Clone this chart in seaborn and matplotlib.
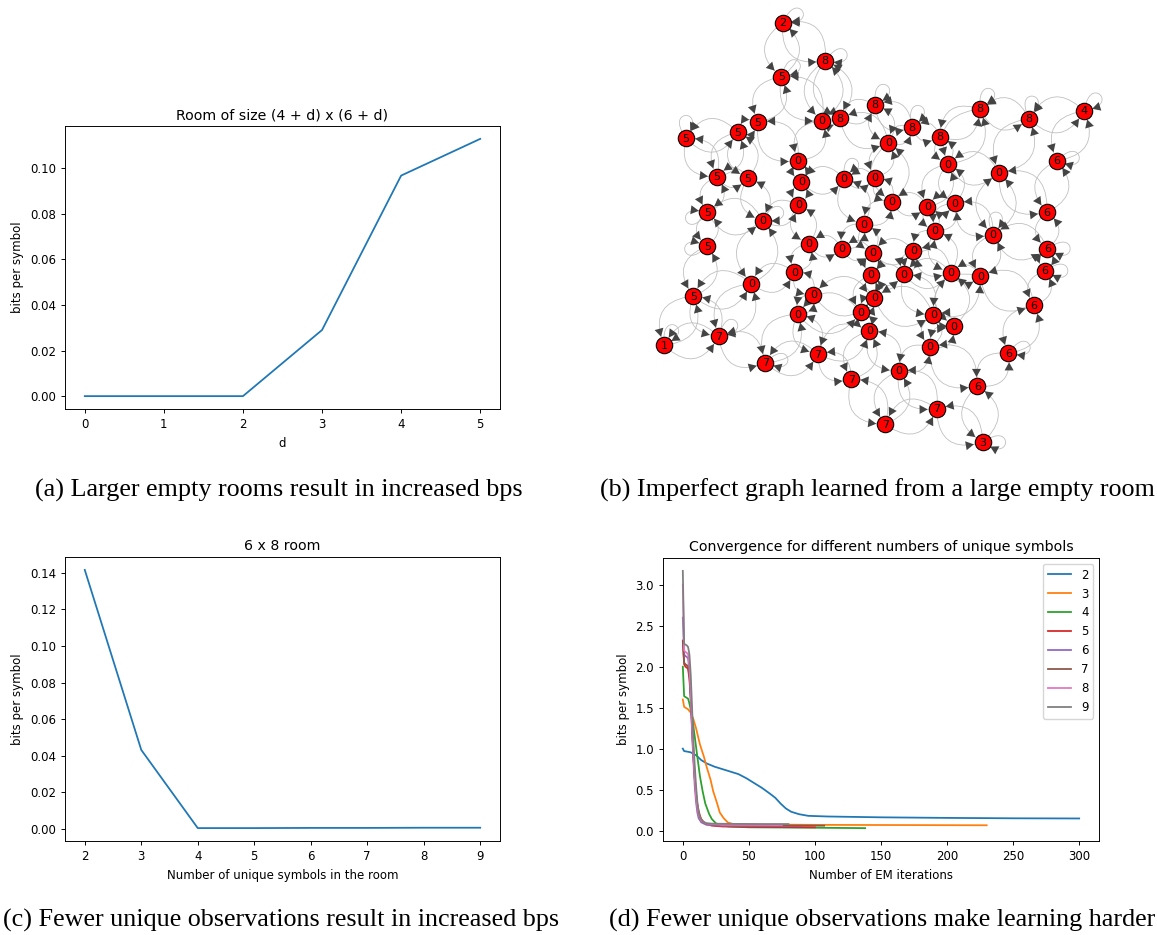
import numpy as np
import pandas as pd
import seaborn as sns
import matplotlib.pyplot as plt
from matplotlib.patches import FancyArrowPatch
from matplotlib.path import Path

# (a) bits per symbol vs room growth d
d_vals = [0, 1, 2, 3, 4, 5]
bps_room = [0.0, 0.0, 0.0, 0.029, 0.0967, 0.1128]

# (c) bits per symbol vs number of unique symbols (6 x 8 room)
n_symbols = [2, 3, 4, 5, 6, 7, 8, 9]
bps_symbols = [0.1415, 0.0432, 0.0005, 0.0005, 0.0006, 0.0006, 0.0007, 0.0007]

# (d) convergence curves, one per number of unique symbols
conv_iters = {
    '2': [0, 1, 3, 6, 10, 14, 18, 24, 30, 36, 42, 48, 54, 60, 66, 70, 74, 78, 82, 88, 95, 110, 150, 200, 250, 300],
    '3': [0, 1, 4, 6, 8, 10, 13, 16, 18, 21, 23, 26, 28, 31, 34, 38, 50, 100, 230],
    '4': [0, 1, 4, 5, 7, 9, 11, 13, 15, 17, 20, 22, 25, 28, 35, 50, 100, 138],
    '5': [0, 1, 2, 3, 4, 5, 6, 7, 8, 9, 10, 11, 12, 13, 14, 16, 18, 22, 30, 50, 100],
    '6': [0, 1, 2, 3, 4, 5, 6, 7, 8, 9, 10, 11, 12, 14, 18, 30, 90],
    '7': [0, 1, 2, 3, 4, 5, 6, 7, 8, 9, 10, 11, 12, 14, 18, 30, 107],
    '8': [0, 1, 2, 3, 4, 5, 6, 7, 8, 9, 10, 11, 12, 14, 18, 30, 75],
    '9': [0, 1, 2, 3, 4, 5, 6, 7, 8, 9, 10, 11, 12, 13, 15, 18, 22, 30, 40, 60, 80],
}
conv_bps = {
    '2': [1.0, 0.97, 0.965, 0.955, 0.92, 0.86, 0.82, 0.78, 0.75, 0.72, 0.69, 0.64, 0.58, 0.52, 0.45, 0.40, 0.33, 0.27, 0.23, 0.20, 0.18, 0.172, 0.162, 0.155, 0.15, 0.148],
    '3': [1.60, 1.51, 1.48, 1.44, 1.36, 1.25, 1.05, 0.90, 0.78, 0.62, 0.48, 0.33, 0.22, 0.15, 0.10, 0.08, 0.075, 0.07, 0.065],
    '4': [2.0, 1.64, 1.61, 1.55, 1.40, 1.15, 0.90, 0.66, 0.48, 0.33, 0.20, 0.14, 0.09, 0.065, 0.05, 0.04, 0.035, 0.03],
    '5': [2.32, 2.03, 2.0, 1.99, 1.97, 1.85, 1.6, 1.25, 0.9, 0.65, 0.45, 0.32, 0.24, 0.18, 0.14, 0.10, 0.08, 0.06, 0.05, 0.045, 0.04],
    '6': [2.6, 2.15, 2.13, 2.12, 2.1, 1.95, 1.6, 1.2, 0.85, 0.55, 0.35, 0.22, 0.15, 0.10, 0.07, 0.06, 0.055],
    '7': [2.3, 2.05, 2.03, 2.02, 2.0, 1.9, 1.65, 1.3, 0.95, 0.65, 0.45, 0.30, 0.20, 0.12, 0.08, 0.065, 0.06],
    '8': [3.0, 2.2, 2.18, 2.17, 2.15, 2.0, 1.7, 1.3, 0.95, 0.65, 0.42, 0.28, 0.19, 0.12, 0.085, 0.07, 0.068],
    '9': [3.17, 2.28, 2.27, 2.26, 2.24, 2.15, 1.9, 1.5, 1.1, 0.8, 0.55, 0.35, 0.22, 0.16, 0.11, 0.09, 0.085, 0.083, 0.082, 0.08, 0.08],
}
hue_order = ['2', '3', '4', '5', '6', '7', '8', '9']

# (b) learned graph: node layout (pixel-ish layout units), labels, edges
pos_x = [782.7, 825.3, 781.3, 875, 980, 1084, 1029, 822, 840, 758, 737.7, 686, 912.3, 939.7,
         888.3, 797.7, 948, 1056.7, 999, 717, 748, 801.3, 844, 874.7, 891.7, 927.3, 955, 798.3,
         707.3, 1047, 763, 864, 935, 993, 707.3, 808.7, 841.7, 872.7, 913.3, 1047.3, 1045, 794.3,
         870.7, 904, 950.7, 980.3, 751.3, 693.3, 813.3, 874.3, 1034, 797.7, 860.7, 933.3, 954,
         869.3, 664, 718.7, 930, 818, 1008.3, 765.3, 898.7, 851.3, 977.3, 936.7, 885.3, 982.7]
pos_y = [22.7, 60.7, 76.7, 105, 109, 111, 118.7, 120.7, 118.3, 122, 132.3, 138.3, 127.3, 136.7,
         142.7, 160.7, 164, 160.7, 172.7, 176.7, 178.3, 181.7, 179, 177.7, 201.7, 206.7, 203.3, 205,
         212.3, 212.3, 221, 224, 231, 234.7, 246, 243.7, 248.7, 252.7, 250.7, 248.7, 270.7, 272,
         275, 274.3, 272.7, 276, 283.7, 296, 294.7, 297.7, 305.3, 314, 312.3, 315, 326,
         331, 345.3, 336.3, 346.7, 354, 353.3, 362.7, 371, 379.3, 386, 408.7, 424.3, 442.3]
node_labels = ['2', '8', '5', '8', '8', '4', '8', '0', '8', '5', '5', '5', '8', '8',
               '0', '0', '0', '6', '0', '5', '5', '0', '0', '0', '0', '0', '0', '0',
               '5', '6', '0', '0', '0', '0', '5', '0', '0', '0', '0', '6', '6', '0',
               '0', '0', '0', '0', '0', '5', '0', '0', '6', '0', '0', '0', '0',
               '0', '1', '7', '0', '7', '6', '7', '0', '7', '6', '7', '7', '3']
edges = [(0, 1), (0, 2), (1, 7), (1, 8), (2, 9), (2, 7), (7, 8), (8, 3), (3, 12), (3, 14),
         (7, 15), (8, 14), (12, 13), (12, 14), (13, 16), (13, 4), (4, 6), (6, 5), (5, 17),
         (6, 18), (4, 16), (17, 29), (18, 16), (18, 29), (18, 33), (16, 26), (16, 25), (14, 23),
         (14, 24), (9, 10), (10, 11), (9, 15), (10, 19), (10, 20), (11, 19), (15, 21), (21, 22),
         (22, 23), (23, 24), (21, 27), (22, 31), (24, 25), (25, 26), (24, 31), (25, 32), (26, 33),
         (26, 32), (19, 28), (19, 20), (20, 30), (28, 34), (28, 30), (27, 30), (27, 35), (29, 39),
         (30, 46), (31, 36), (31, 37), (32, 38), (32, 44), (33, 39), (33, 45), (34, 47), (35, 36),
         (35, 41), (36, 37), (37, 38), (37, 42), (38, 43), (38, 44), (39, 40), (40, 50), (41, 48),
         (41, 46), (42, 43), (42, 49), (43, 44), (44, 45), (45, 50), (46, 47), (46, 57), (47, 56),
         (47, 57), (48, 49), (48, 51), (49, 52), (49, 53), (50, 60), (51, 52), (51, 59), (51, 61),
         (52, 55), (53, 54), (53, 58), (54, 58), (55, 59), (55, 63), (55, 62), (56, 57), (57, 61),
         (58, 62), (58, 64), (59, 61), (59, 63), (60, 64), (62, 65), (62, 66), (63, 66), (64, 67),
         (65, 67), (65, 66), (42, 52), (43, 53), (44, 54), (45, 53)]
loop_nodes = [0, 1, 3, 4, 5, 6, 12, 17, 22, 28, 30, 33, 34, 39, 40, 56, 57, 60, 61, 67, 11, 2]
loop_angles = [30, 20, 60, 60, 45, 80, 70, 10, 60, 200, 30, 80, 190, 0, 0, 60, 40, 20, 10, 0, 90, 40]

captions = ['(a) Larger empty rooms result in increased bps',
            '(b) Imperfect graph learned from a large empty room',
            '(c) Fewer unique observations result in increased bps',
            '(d) Fewer unique observations make learning harder']

plt.rcParams.update({
    'font.size': 8.5,
    'axes.titlesize': 10.2,
    'axes.titlepad': 5,
    'axes.linewidth': 0.68,
    'lines.linewidth': 1.28,
    'xtick.major.size': 3,
    'ytick.major.size': 3,
    'xtick.major.width': 0.68,
    'ytick.major.width': 0.68,
    'legend.fontsize': 8.5,
})

W, H = 1157, 935
fig = plt.figure(figsize=(W / 100, H / 100), dpi=100)


def px_axes(x0, y0, x1, y1):
    return fig.add_axes([x0 / W, 1 - y1 / H, (x1 - x0) / W, (y1 - y0) / H])


# (a)
ax_a = px_axes(65, 126, 500, 409)
sns.lineplot(x=d_vals, y=bps_room, ax=ax_a, color='C0')
ax_a.set_title('Room of size (4 + d) x (6 + d)')
ax_a.set_xlabel('d')
ax_a.set_ylabel('bits per symbol')

# (c)
ax_c = px_axes(65, 557, 500, 841)
sns.lineplot(x=n_symbols, y=bps_symbols, ax=ax_c, color='C0')
ax_c.set_title('6 x 8 room')
ax_c.set_xlabel('Number of unique symbols in the room')
ax_c.set_ylabel('bits per symbol')

# (d)
rows = []
for k in hue_order:
    for it, b in zip(conv_iters[k], conv_bps[k]):
        rows.append({'iteration': it, 'bps': b, 'symbols': k})
conv = pd.DataFrame(rows)

ax_d = px_axes(663, 558, 1099, 841)
sns.lineplot(data=conv, x='iteration', y='bps', hue='symbols', hue_order=hue_order,
             palette=sns.color_palette('tab10', 8), estimator=None, legend=False, ax=ax_d)
ax_d.legend(ax_d.lines[:len(hue_order)], hue_order, loc='upper right')
ax_d.set_title('Convergence for different numbers of unique symbols')
ax_d.set_xlabel('Number of EM iterations')
ax_d.set_ylabel('bits per symbol')
ax_d.set_yticks([0.0, 0.5, 1.0, 1.5, 2.0, 2.5, 3.0])

# (b) graph
ax_b = px_axes(640, 0, 1157, 460)
ax_b.set_xlim(640, 1157)
ax_b.set_ylim(460, 0)
ax_b.axis('off')

arc_color = '#c0c0c0'
head_color = '#444444'
head_style = '-|>,head_length=0.45,head_width=0.25'
for u, v in edges:
    for a, b in ((u, v), (v, u)):
        pa = (pos_x[a], pos_y[a])
        pb = (pos_x[b], pos_y[b])
        style = 'arc3,rad=0.65'
        ax_b.add_patch(FancyArrowPatch(pa, pb, connectionstyle=style, arrowstyle='-',
                                       color=arc_color, lw=0.6, shrinkA=5, shrinkB=6, zorder=1))
        ax_b.add_patch(FancyArrowPatch(pa, pb, connectionstyle=style, arrowstyle=head_style,
                                       mutation_scale=13, facecolor=head_color, edgecolor='none',
                                       lw=0, shrinkA=5, shrinkB=6.5, zorder=2))

r_node = 8.5
for n, ang in zip(loop_nodes, loop_angles):
    cx, cy = pos_x[n], pos_y[n]
    t = np.deg2rad(ang)
    ux, uy = np.cos(t), -np.sin(t)
    px, py = -uy, ux
    s0 = (cx + r_node * (ux * 0.87 - px * 0.5), cy + r_node * (uy * 0.87 - py * 0.5))
    s1 = (cx + r_node * (ux * 0.87 + px * 0.5), cy + r_node * (uy * 0.87 + py * 0.5))
    c0 = (cx + 28 * ux - 15 * px, cy + 28 * uy - 15 * py)
    c1 = (cx + 28 * ux + 15 * px, cy + 28 * uy + 15 * py)
    loop = Path([s0, c0, c1, s1], [Path.MOVETO, Path.CURVE4, Path.CURVE4, Path.CURVE4])
    ax_b.add_patch(FancyArrowPatch(path=loop, arrowstyle='-', color=arc_color, lw=0.6, zorder=1))
    ax_b.add_patch(FancyArrowPatch(path=loop, arrowstyle=head_style, mutation_scale=13,
                                   facecolor=head_color, edgecolor='none', lw=0, zorder=2))

sns.scatterplot(x=pos_x, y=pos_y, ax=ax_b, s=140, color='red', edgecolor='black',
                linewidth=0.8, zorder=3, legend=False)
for x, y, lab in zip(pos_x, pos_y, node_labels):
    ax_b.text(x, y + 0.5, lab, ha='center', va='center', fontsize=8, zorder=4)
ax_b.set_xlim(640, 1157)
ax_b.set_ylim(460, 0)

# captions
cap_kw = dict(fontsize=18.8, family='Liberation Serif', va='center', ha='right')
fig.text(523 / W, 1 - 490 / H, captions[0], **cap_kw)
fig.text(1155 / W, 1 - 490 / H, captions[1], **cap_kw)
fig.text(559 / W, 1 - 920 / H, captions[2], **cap_kw)
fig.text(1155 / W, 1 - 920 / H, captions[3], **cap_kw)

fig.savefig('out.png', dpi=100)
